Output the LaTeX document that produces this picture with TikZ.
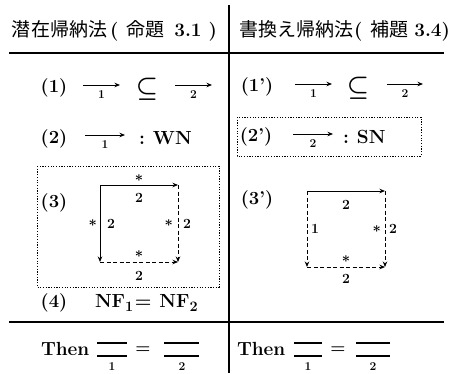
\documentclass[tikz,border=0pt]{standalone}
\usepackage{fontspec}
\newfontfamily\jpfont{Noto Sans CJK JP}
\newcommand\jptext[1]{{\mdseries\jpfont #1}}
\usetikzlibrary{arrows.meta}
\begin{document}
\begin{tikzpicture}[x=1pt,y=-1pt,
  every node/.style={inner sep=0pt, outer sep=0pt},
  head/.style={anchor=west, font=\bfseries\boldmath\fontsize{19}{22}\selectfont},
  tag/.style={font=\bfseries\fontsize{18.5}{21}\selectfont},
  txt/.style={font=\bfseries\boldmath\fontsize{19}{22}\selectfont},
  incl/.style={font=\boldmath\fontsize{24}{26}\selectfont},
  sub/.style={font=\bfseries\fontsize{12}{14}\selectfont},
  num/.style={font=\bfseries\fontsize{14}{16}\selectfont},
  star/.style={font=\boldmath\fontsize{14}{16}\selectfont},
  rel/.style={-{Stealth[length=5.5pt,width=4.5pt]}, line width=1pt},
  drel/.style={rel, dash pattern=on 4pt off 2.5pt},
  dotbox/.style={draw, line width=0.8pt, dash pattern=on 1.2pt off 1.5pt},
  rule/.style={line width=1.7pt},
  conv/.style={line width=1.1pt}
]
\useasboundingbox (0,0) rectangle (473,373);
% rules
\coordinate (vt) at (229,5); \coordinate (vb) at (229,373);
\draw[rule] (vt) -- (vb);
\coordinate (h1l) at (9,53); \coordinate (h1r) at (444,53);
\draw[rule] (h1l) -- (h1r);
\coordinate (h2l) at (9,322); \coordinate (h2r) at (444,322);
\draw[rule] (h2l) -- (h2r);
% headers
\node[head] (hl) at (12,31) {\jptext{潜在帰納法}\hspace{3pt}(\hspace{8pt}\jptext{命題}\hspace{10pt}3.1\hspace{7pt})};
\node[head] (hr) at (239,31) {\jptext{書換え帰納法}\hspace{1pt}(\hspace{8pt}\jptext{補題}\hspace{6pt}3.4)};
% ---------- left column ----------
\node[tag] (t1) at (54,88) {(1)};
\coordinate (l1a) at (83,85); \coordinate (l1b) at (120,85);
\draw[rel] (l1a) -- node[sub, below=6pt] (l1s) {1} (l1b);
\node[incl] (l1i) at (147,89) {$\subseteq$};
\coordinate (l1c) at (175,85); \coordinate (l1d) at (212,85);
\draw[rel] (l1c) -- node[sub, below=6pt] (l1t) {2} (l1d);

\node[tag] (t2) at (54,139) {(2)};
\coordinate (l2a) at (85,135); \coordinate (l2b) at (125,135);
\draw[rel] (l2a) -- node[sub, below=6pt] (l2s) {1} (l2b);
\node[txt, anchor=west] (wn) at (139,138) {:\hspace{8pt}WN};

\draw[dotbox] (37,166) rectangle (219,287);
\node[tag] (t3) at (54,203) {(3)};
\coordinate (qa) at (100,185); \coordinate (qb) at (178,185);
\coordinate (qc) at (100,262); \coordinate (qd) at (178,262);
\draw[rel] (qa) -- node[star, above=4pt] (qat) {$*$} node[num, below=8pt] (qan) {2} (qb);
\draw[rel] (qa) -- node[star, left=3pt] (qlt) {$*$} node[num, right=7pt] (qln) {2} (qc);
\draw[drel] (qb) -- node[star, left=5pt] (qrt) {$*$} node[num, right=5pt] (qrn) {2} (qd);
\draw[drel] (qc) -- node[star, above=5pt] (qbt) {$*$} node[num, below=9pt] (qbn) {2} (qd);

\node[tag] (t4) at (54,303) {(4)};
\node[txt, anchor=west] (nf) at (95,303) {NF$_1$\hspace{1pt}=\hspace{8pt}NF$_2$};

\node[txt, anchor=west] (th1) at (41,349) {Then};
\coordinate (c1a) at (97,343); \coordinate (c1b) at (127,343);
\coordinate (c1c) at (97,356); \coordinate (c1d) at (127,356);
\draw[conv] (c1a) -- (c1b); \draw[conv] (c1c) -- (c1d);
\node[sub] (c1s) at (112,367) {1};
\node[txt] (eq1) at (143,350) {$=$};
\coordinate (c2a) at (164,343); \coordinate (c2b) at (199,343);
\coordinate (c2c) at (164,356); \coordinate (c2d) at (199,356);
\draw[conv] (c2a) -- (c2b); \draw[conv] (c2c) -- (c2d);
\node[sub] (c2s) at (182,367) {2};
% ---------- right column ----------
\node[tag] (u1) at (257,87) {(1')};
\coordinate (r1a) at (295,84); \coordinate (r1b) at (332,84);
\draw[rel] (r1a) -- node[sub, below=6pt] (r1s) {1} (r1b);
\node[incl] (r1i) at (358,88) {$\subseteq$};
\coordinate (r1c) at (387,84); \coordinate (r1d) at (423,84);
\draw[rel] (r1c) -- node[sub, below=6pt] (r1t) {2} (r1d);

\draw[dotbox] (237,117) rectangle (421,156);
\node[tag] (u2) at (256,137) {(2')};
\coordinate (r2a) at (293,134); \coordinate (r2b) at (333,134);
\draw[rel] (r2a) -- node[sub, below=6pt] (r2s) {2} (r2b);
\node[txt, anchor=west] (sn) at (343,137) {:\hspace{8pt}SN};

\node[tag] (u3) at (257,200) {(3')};
\coordinate (pa) at (307,191); \coordinate (pb) at (385,191);
\coordinate (pc) at (307,267); \coordinate (pd) at (385,267);
\draw[rel] (pa) -- node[num, below=9pt] (pan) {2} (pb);
\draw[drel] (pa) -- node[num, right=4pt] (pln) {1} (pc);
\draw[drel] (pb) -- node[star, left=4pt] (prt) {$*$} node[num, right=4pt] (prn) {2} (pd);
\draw[drel] (pc) -- node[star, above=5pt] (pbt) {$*$} node[num, below=7pt] (pbn) {2} (pd);

\node[txt, anchor=west] (th2) at (237,349) {Then};
\coordinate (e1a) at (294,343); \coordinate (e1b) at (322,343);
\coordinate (e1c) at (294,356); \coordinate (e1d) at (322,356);
\draw[conv] (e1a) -- (e1b); \draw[conv] (e1c) -- (e1d);
\node[sub] (e1s) at (308,367) {1};
\node[txt] (eq2) at (338,350) {$=$};
\coordinate (e2a) at (356,343); \coordinate (e2b) at (390,343);
\coordinate (e2c) at (356,356); \coordinate (e2d) at (390,356);
\draw[conv] (e2a) -- (e2b); \draw[conv] (e2c) -- (e2d);
\node[sub] (e2s) at (373,367) {2};
\end{tikzpicture}
\end{document}
